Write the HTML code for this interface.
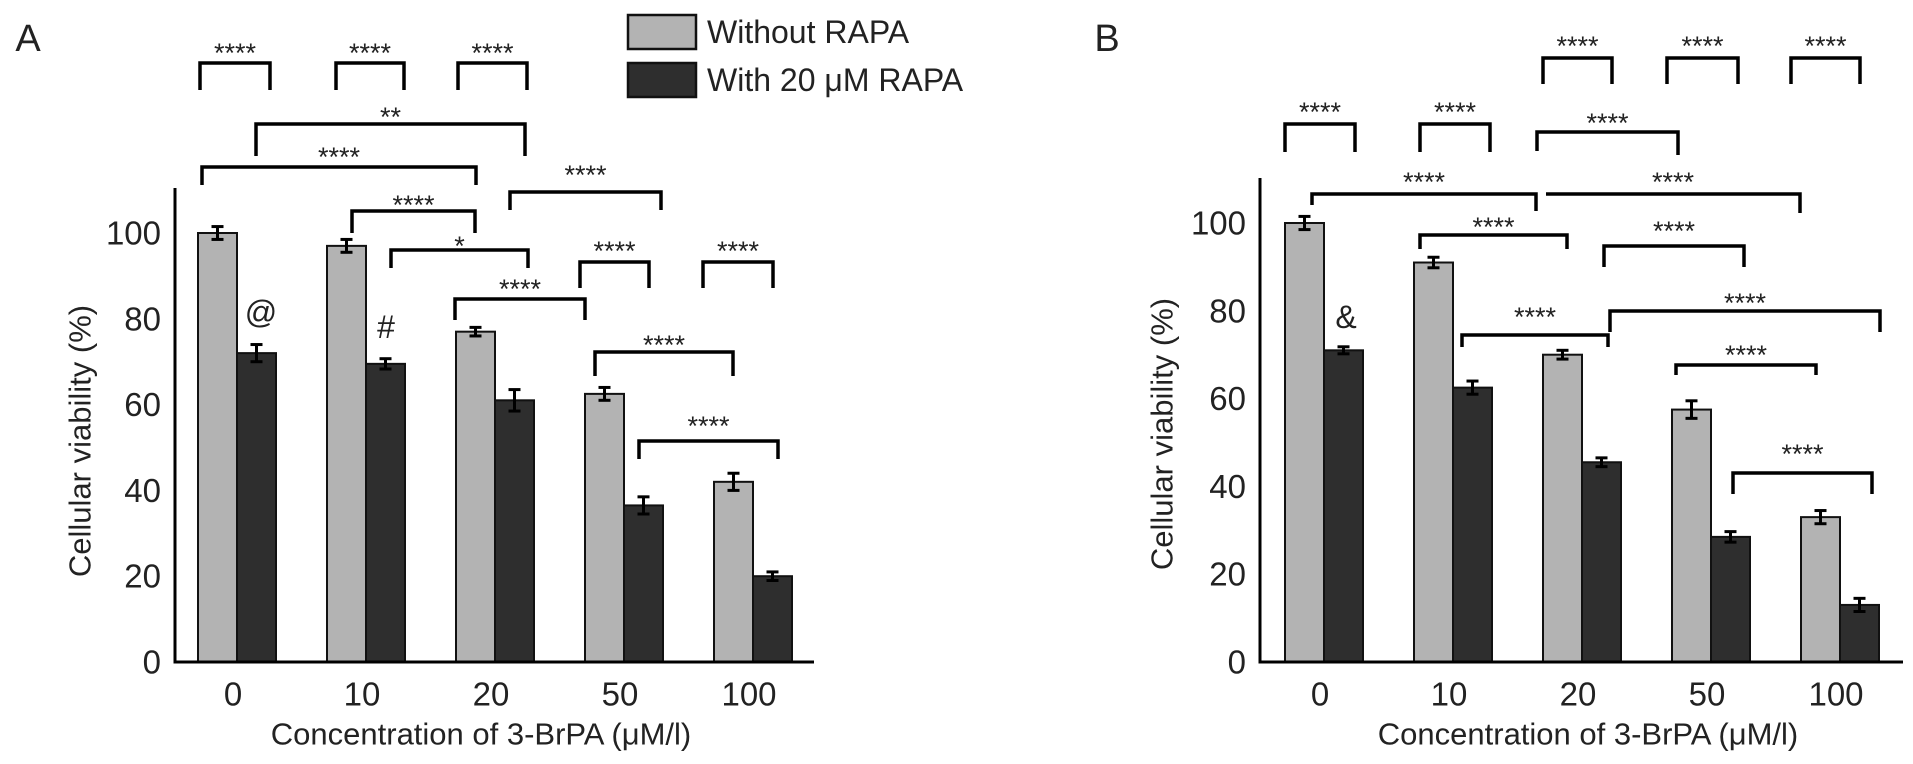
<!DOCTYPE html>
<html><head><meta charset="utf-8"><style>
body{margin:0;background:#fff;width:1913px;height:759px;overflow:hidden}
svg{font-family:"Liberation Sans",sans-serif}
</style></head><body>
<svg id="chart" width="1913" height="759"></svg>
<script>
const categories = ["0","10","20","50","100"];
const aWithout = [100, 97, 77, 62.5, 42];
const aWith = [72, 69.5, 61, 36.5, 20];
const aErrWithout = [1.5, 1.5, 1, 1.5, 2];
const aErrWith = [2, 1.2, 2.5, 2, 1];
const bWithout = [100, 91, 70, 57.5, 33];
const bWith = [71, 62.5, 45.5, 28.5, 13];
const bErrWithout = [1.5, 1.2, 1, 2, 1.5];
const bErrWith = [0.8, 1.5, 1, 1.2, 1.5];
const yTicks = [0, 20, 40, 60, 80, 100];

const NS = "http://www.w3.org/2000/svg";
const svg = document.getElementById("chart");
function mk(tag, attrs, parent){const e=document.createElementNS(NS,tag);for(const k in attrs)e.setAttribute(k,attrs[k]);(parent||svg).appendChild(e);return e;}
function txt(x,y,s,size,anchor,parent){const t=mk("text",{x:x,y:y,"font-size":size,"text-anchor":anchor||"middle","dominant-baseline":"central",fill:"#222"},parent);t.textContent=s;return t;}

function panel(p){
  const g=mk("g",{});
  
  
  const y=v=>p.base-(p.base-p.y100)*v/100;
  const bw=39;
  categories.forEach((c,i)=>{
    const cx=p.c0+i*p.step;
    const r1=mk("rect",{x:cx-bw,y:y(p.v1[i]),width:bw,height:p.base-y(p.v1[i]),fill:"#b3b3b3",stroke:"#111","stroke-width":2},g);
    
    
    const r2=mk("rect",{x:cx,y:y(p.v2[i]),width:bw,height:p.base-y(p.v2[i]),fill:"#2e2e2e",stroke:"#111","stroke-width":2},g);
    
    
    [[cx-bw/2,p.v1[i],p.e1[i]],[cx+bw/2,p.v2[i],p.e2[i]]].forEach(([x,v,e])=>{
      mk("line",{x1:x,x2:x,y1:y(v+e),y2:y(v-e),stroke:"#000","stroke-width":3},g);
      mk("line",{x1:x-6,x2:x+6,y1:y(v+e),y2:y(v+e),stroke:"#000","stroke-width":3},g);
      mk("line",{x1:x-6,x2:x+6,y1:y(v-e),y2:y(v-e),stroke:"#000","stroke-width":3},g);
    });
    const t=txt(cx-4,694,c,33,"middle",g);
    
    
  });
  mk("line",{x1:p.ax,x2:p.ax,y1:p.top,y2:p.base+1.5,stroke:"#000","stroke-width":3},g);
  mk("line",{x1:p.ax-1.5,x2:p.xend,y1:p.base,y2:p.base,stroke:"#000","stroke-width":3},g);
  yTicks.forEach(v=>{
    const t=txt(p.ax-14,y(v),String(v),33,"end",g);
    
    
  });
  const yt=txt(0,0,"Cellular viability (%)",31,"middle",g);
  yt.setAttribute("transform","translate("+p.ytx+","+p.yty+") rotate(-90)");
  
  
  const xt=txt(p.xtx,734,"Concentration of 3-BrPA (μM/l)",31,"middle",g);
  
  
  p.br.forEach(b=>{
    const [x1,x2,yt2,l1,l2,lab,ty]=b;
    const pth=mk("path",{d:`M${x1} ${l1} V${yt2} H${x2} V${l2}`,fill:"none",stroke:"#000","stroke-width":3.5},g);
    
    
    const t=txt((x1+x2)/2,ty+7,lab,27,"middle",g);
    
    
  });
  const pl=txt(p.lx,39,p.letter,38,"middle",g);
  
  
  p.sym.forEach(s=>{const t=txt(s[0],s[1],s[2],32,"middle",g);
    
    });
}

panel({name:"panel-a",letter:"A",lx:28,v1:aWithout,v2:aWith,e1:aErrWithout,e2:aErrWith,
  c0:237,step:129,base:662,y100:233,ax:175,top:188,xend:814,ytx:80,yty:441,xtx:481,
  sym:[[261,312,"@"],[386,327,"#"]],
  br:[[200,270,63,90,90,"****",46],[336,404,63,90,90,"****",46],[458,527,63,90,90,"****",46],
      [256,525,124,156,156,"**",110],[202,476,167,185,185,"****",150],[510,661,192,210,210,"****",168],
      [352,475,211,233,233,"****",198],[391,528,250,268,268,"*",239],[580,649,262,288,288,"****",244],
      [703,773,262,288,288,"****",244],[455,585,299,320,320,"****",282],[595,733,352,376,376,"****",338],
      [639,778,441,459,459,"****",419]]});
panel({name:"panel-b",letter:"B",lx:1107,v1:bWithout,v2:bWith,e1:bErrWithout,e2:bErrWith,
  c0:1324,step:129,base:662,y100:223,ax:1260,top:178,xend:1903,ytx:1162,yty:434,xtx:1588,
  sym:[[1346,317,"&"]],
  br:[[1543,1612,58,84,84,"****",39],[1667,1738,58,84,84,"****",39],[1791,1860,58,84,84,"****",39],
      [1285,1355,124,152,152,"****",105],[1420,1490,124,152,152,"****",105],
      [1537,1678,132,151,155,"****",116],[1312,1536,194,205,211,"****",175],[1546,1800,194,194,213,"****",175],
      [1420,1567,235,249,249,"****",220],[1604,1744,246,267,267,"****",224],[1462,1608,335,347,347,"****",310],
      [1610,1880,311,332,332,"****",296],[1676,1816,365,375,375,"****",348],[1733,1872,473,494,494,"****",447]]});

const lg=mk("g",{});


const l1=mk("rect",{x:628,y:15,width:68,height:34,fill:"#b3b3b3",stroke:"#111","stroke-width":2.5},lg);


const l2=mk("rect",{x:628,y:63,width:68,height:34,fill:"#2e2e2e",stroke:"#111","stroke-width":2.5},lg);


const t1=txt(707,32,"Without RAPA",32,"start",lg);


const t2=txt(707,80,"With 20 μM RAPA",32,"start",lg);


</script>
</body></html>
